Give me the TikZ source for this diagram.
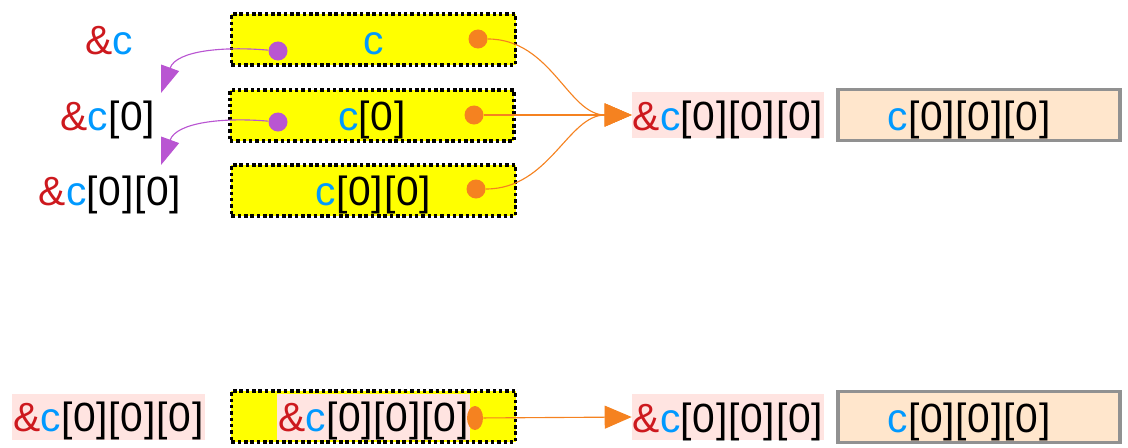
\documentclass[tikz,border=0pt]{standalone}
\usepackage{fontspec}
\setmainfont[LetterSpace=2]{Liberation Sans}
\usetikzlibrary{arrows.meta, positioning, shapes.geometric}
\definecolor{ampred}{RGB}{205,25,30}
\definecolor{varblue}{RGB}{0,153,255}
\definecolor{cellyellow}{RGB}{255,255,0}
\definecolor{addrpink}{RGB}{255,228,225}
\definecolor{valbeige}{RGB}{255,230,204}
\definecolor{ptrorange}{RGB}{245,130,32}
\definecolor{ptrpurple}{RGB}{185,85,210}
\definecolor{edgegray}{RGB}{145,145,145}
\newcommand{\addr}{\textcolor{ampred}{\&}}
\newcommand{\cvar}{\textcolor{varblue}{c}}

\begin{document}
\begin{tikzpicture}[
    x=0.025cm, y=-0.025cm,
    lbl/.style={font=\fontsize{29}{34}\selectfont, text height=0.95cm, text depth=0.2cm, inner sep=0pt},
    cellbox/.style={lbl, rectangle, draw=black, fill=cellyellow, line width=2.5pt, dash pattern=on 2.5pt off 2pt, minimum width=7.1cm, minimum height=1.27cm},
    addrbox/.style={lbl, rectangle, fill=addrpink, minimum width=4.8cm},
    valbox/.style={lbl, rectangle, draw=edgegray, fill=valbeige, line width=2.5pt, minimum width=7.05cm, minimum height=1.27cm},
    ptrdot/.style={circle, inner sep=0pt, minimum size=0.475cm},
    orangeptr/.style={draw=ptrorange, line width=0.8pt, -{Triangle[length=0.675cm, width=0.575cm]}},
    purpleptr/.style={draw=ptrpurple, line width=0.8pt, -{Triangle[length=0.67cm, width=0.47cm]}}
]
\useasboundingbox (0,0) rectangle (1128,447);

% cells of c
\node[cellbox] (cell0) at (373.5,39.5) {\cvar};
\node[cellbox] (cell1) at (372,115.5) {\cvar[0]};
\node[cellbox] (cell2) at (373.5,190.5) {\cvar[0][0]};

\node[lbl] (addr0) at (109,39.5) {\addr\cvar};
\node[lbl] (addr1) at (108,115.5) {\addr\cvar[0]};
\node[lbl] (addr2) at (110,190.5) {\addr\cvar[0][0]};

\node[ptrdot, fill=ptrpurple] (pd0) at (278,51) {};
\node[ptrdot, fill=ptrpurple] (pd1) at (278,122) {};
\node[ptrdot, fill=ptrorange] (od0) at (478,39) {};
\node[ptrdot, fill=ptrorange] (od1) at (474,115) {};
\node[ptrdot, fill=ptrorange] (od2) at (476,189) {};

\coordinate (tip0) at (161,93);
\coordinate (tip1) at (161,165);

% target
\node[addrbox] (tgt) at (728,115) {\addr\cvar[0][0][0]};
\node[valbox, right=0.3cm of tgt] (val) {\cvar[0][0][0]\hspace*{0.5cm}};

\draw[purpleptr] (pd0) to[out=175, in=70] (tip0);
\draw[purpleptr] (pd1) to[out=175, in=70] (tip1);
\draw[orangeptr] (od0) to[out=0, in=180] (tgt.west);
\draw[orangeptr] (od1) -- (tgt.west);
\draw[orangeptr] (od2) to[out=0, in=180] (tgt.west);

% bottom row
\node[addrbox] (addr3) at (108.5,416.5) {\addr\cvar[0][0][0]};
\node[cellbox] (cell3) at (373.5,416.5) {};
\node[addrbox] (inner3) at (373.5,416.5) {\addr\cvar[0][0][0]};
\node[ellipse, inner sep=0pt, minimum width=0.4cm, minimum height=0.6cm, fill=ptrorange] (od3) at (475,418) {};
\node[addrbox] (tgt3) at (728,417) {\addr\cvar[0][0][0]};
\node[valbox, right=0.3cm of tgt3] (val3) {\cvar[0][0][0]\hspace*{0.5cm}};

\draw[orangeptr] (od3) -- (tgt3.west);
\end{tikzpicture}
\end{document}
